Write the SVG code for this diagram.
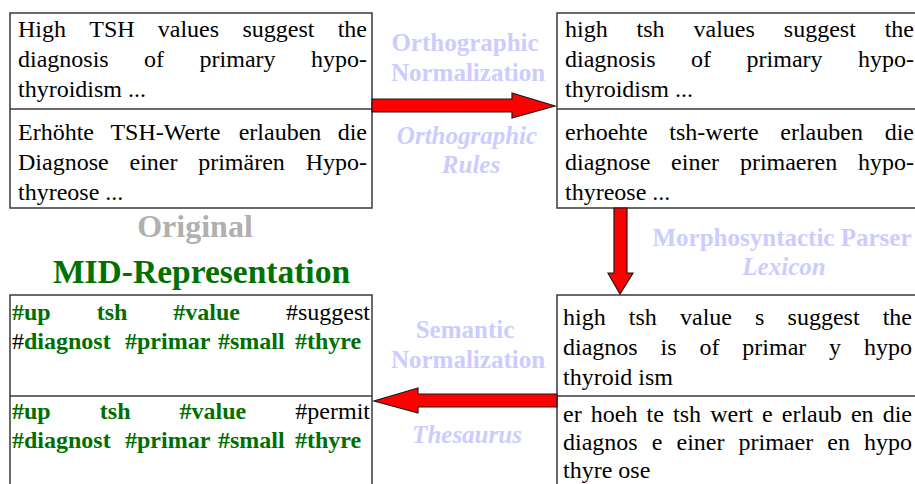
<svg xmlns="http://www.w3.org/2000/svg" width="915" height="484" viewBox="0 0 915 484">
<style>
.bg{fill:#fff}
.box{fill:#fff;stroke:#3a3a3a;stroke-width:1.5}
.div{stroke:#3a3a3a;stroke-width:1.5}
.t{font-family:"Liberation Serif","Times New Roman",serif;font-size:24px;fill:#000}
.e{text-anchor:end}
.g{fill:#006f00;font-weight:bold}
.lbl{font-family:"Liberation Serif","Times New Roman",serif;font-size:25px;font-weight:bold;fill:#ccccff;text-anchor:middle}
.it{font-style:italic}
.title{font-family:"Liberation Serif","Times New Roman",serif;font-weight:bold;text-anchor:middle}
.arrow{fill:#ff0000;stroke:#1a1a1a;stroke-width:1.2;stroke-linejoin:miter}
</style>
<rect class="bg" x="0" y="0" width="915" height="484"/>

<g id="node-original">
<rect class="box" x="10" y="13" width="362" height="195"/>
<line class="div" x1="10" y1="109" x2="372" y2="109"/>
<text class="t" y="37"><tspan x="18">High</tspan><tspan x="89.3">TSH</tspan><tspan x="157.8">values</tspan><tspan x="242.4">suggest</tspan><tspan x="367" class="e">the</tspan></text>
<text class="t" y="67"><tspan x="18">diagnosis</tspan><tspan x="144.1">of</tspan><tspan x="199.6">primary</tspan><tspan x="367" class="e">hypo-</tspan></text>
<text class="t" x="18" y="97">thyroidism ...</text>
<text class="t" y="140"><tspan x="18">Erhöhte</tspan><tspan x="110.4">TSH-Werte</tspan><tspan x="238.7">erlauben</tspan><tspan x="367" class="e">die</tspan></text>
<text class="t" y="170"><tspan x="18">Diagnose</tspan><tspan x="129.5">einer</tspan><tspan x="198.2">primären</tspan><tspan x="367" class="e">Hypo-</tspan></text>
<text class="t" x="18" y="200">thyreose ...</text>
</g>

<g id="node-orthographic">
<rect class="box" x="557" y="13" width="362" height="195"/>
<line class="div" x1="557" y1="109" x2="919" y2="109"/>
<text class="t" y="37"><tspan x="565">high</tspan><tspan x="636.6">tsh</tspan><tspan x="693.5">values</tspan><tspan x="783.8">suggest</tspan><tspan x="914" class="e">the</tspan></text>
<text class="t" y="67"><tspan x="565">diagnosis</tspan><tspan x="691.1">of</tspan><tspan x="746.6">primary</tspan><tspan x="914" class="e">hypo-</tspan></text>
<text class="t" x="565" y="97">thyroidism ...</text>
<text class="t" y="140"><tspan x="565">erhoehte</tspan><tspan x="669.3">tsh-werte</tspan><tspan x="780.3">erlauben</tspan><tspan x="914" class="e">die</tspan></text>
<text class="t" y="170"><tspan x="565">diagnose</tspan><tspan x="671.1">einer</tspan><tspan x="739.9">primaeren</tspan><tspan x="914" class="e">hypo-</tspan></text>
<text class="t" x="565" y="200">thyreose ...</text>
</g>

<g id="node-morphosyntactic">
<rect class="box" x="557" y="295" width="362" height="200"/>
<line class="div" x1="557" y1="396" x2="919" y2="396"/>
<text class="t" y="325"><tspan x="563">high</tspan><tspan x="628.8">tsh</tspan><tspan x="680">value</tspan><tspan x="755.1">s</tspan><tspan x="787.6">suggest</tspan><tspan x="912" class="e">the</tspan></text>
<text class="t" y="355"><tspan x="563">diagnos</tspan><tspan x="660.5">is</tspan><tspan x="699.4">of</tspan><tspan x="742.3">primar</tspan><tspan x="829.1">y</tspan><tspan x="912" class="e">hypo</tspan></text>
<text class="t" x="563" y="385">thyroid ism</text>
<text class="t" y="422"><tspan x="563">er</tspan><tspan x="590.8">hoeh</tspan><tspan x="646.6">te</tspan><tspan x="673">tsh</tspan><tspan x="710.2">wert</tspan><tspan x="762">e</tspan><tspan x="781.8">erlaub</tspan><tspan x="850.9">en</tspan><tspan x="912" class="e">die</tspan></text>
<text class="t" y="450"><tspan x="563">diagnos</tspan><tspan x="651.7">e</tspan><tspan x="676.5">einer</tspan><tspan x="738.5">primaer</tspan><tspan x="827.3">en</tspan><tspan x="912" class="e">hypo</tspan></text>
<text class="t" x="563" y="478">thyre ose</text>
</g>

<g id="node-mid">
<rect class="box" x="10" y="295" width="362" height="200"/>
<line class="div" x1="10" y1="396" x2="372" y2="396"/>
<text class="t" y="320"><tspan x="12" class="g">#up</tspan><tspan x="96.7" class="g">tsh</tspan><tspan x="173.3" class="g">#value</tspan><tspan x="370" class="e">#suggest</tspan></text>
<text class="t" y="349"><tspan x="12">#</tspan><tspan class="g">diagnost</tspan><tspan x="125" class="g">#primar</tspan><tspan x="218" class="g">#small</tspan><tspan x="295" class="g">#thyre</tspan></text>
<text class="t" y="419"><tspan x="12" class="g">#up</tspan><tspan x="99.8" class="g">tsh</tspan><tspan x="179.6" class="g">#value</tspan><tspan x="370" class="e">#permit</tspan></text>
<text class="t" y="448"><tspan x="12" class="g">#diagnost</tspan><tspan x="125" class="g">#primar</tspan><tspan x="218" class="g">#small</tspan><tspan x="295" class="g">#thyre</tspan></text>
</g>

<g id="titles">
<text class="title" x="195" y="237" font-size="32" fill="#b0b0b0">Original</text>
<text class="title" x="201.5" y="283" font-size="33.5" fill="#007000">MID-Representation</text>
</g>

<g id="connectors">
<polygon class="arrow" points="372,99 512,99 512,93 555,106 512,118 512,112 372,112"/>
<polygon class="arrow" points="614,208 627,208 627,273 633,273 620,294 608,273 614,273"/>
<polygon class="arrow" points="557,394 418,394 418,388 374,401 418,413 418,407 557,407"/>
</g>

<g id="connector-labels">
<text class="lbl" x="465" y="51">Orthographic</text>
<text class="lbl" x="468" y="81">Normalization</text>
<text class="lbl it" x="467" y="144">Orthographic</text>
<text class="lbl it" x="471" y="173">Rules</text>
<text class="lbl" x="782" y="246">Morphosyntactic Parser</text>
<text class="lbl it" x="784" y="275">Lexicon</text>
<text class="lbl" x="465" y="338">Semantic</text>
<text class="lbl" x="468" y="368">Normalization</text>
<text class="lbl it" x="467" y="443">Thesaurus</text>
</g>
</svg>
